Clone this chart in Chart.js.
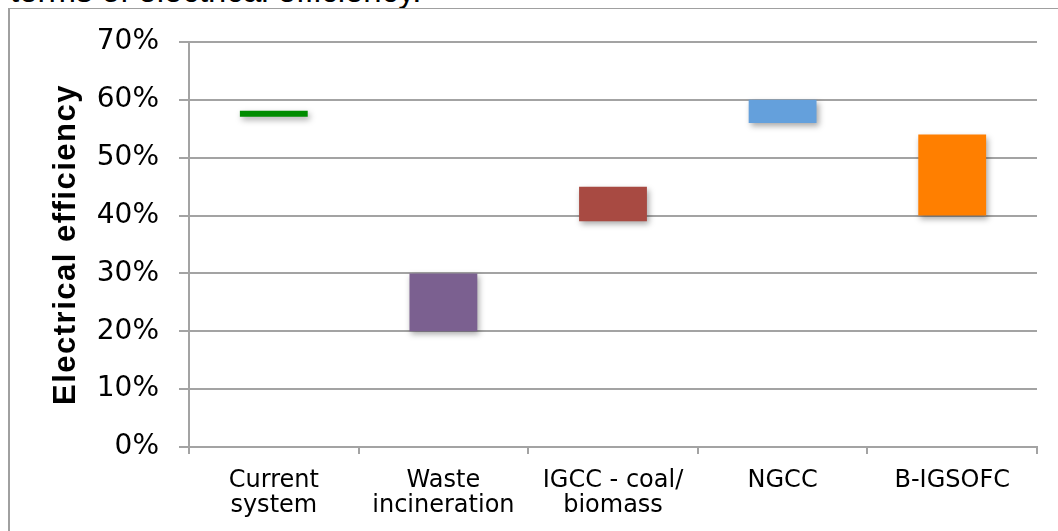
<!DOCTYPE html>
<html>
<head>
<meta charset="utf-8">
<script src="https://cdn.jsdelivr.net/npm/chart.js@4.4.1/dist/chart.umd.min.js"></script>
<style>
  html, body { margin: 0; padding: 0; background: #fff; overflow: hidden; }
  #caja { position: relative; width: 1058px; height: 531px; }
  #titulo { position: absolute; left: 10px; top: -26px; font: 33px/33px "Liberation Sans", Arial, sans-serif; color: #000; white-space: nowrap; }
  #marco { position: absolute; left: 8px; top: 8px; width: 1100px; height: 600px; border-left: 2px solid #a0a0a0; border-top: 1px solid #a0a0a0; }
  canvas { position: absolute; left: 0; top: 0; }
</style>
</head>
<body>
<div id="caja">
  <div id="titulo">terms of electrical efficiency.</div>
  <div id="marco"></div>
  <canvas id="grafica" width="1058" height="531"></canvas>
</div>
<script>
// categorias y rangos de eficiencia (%)
const categorias = [["Current", "system"], ["Waste", "incineration"], ["IGCC - coal/", "biomass"], "NGCC", "B-IGSOFC"];
const minimos = [57.1, 20, 39, 56, 40];
const maximos = [58.1, 30, 45, 60, 54];
const marcasY = [0, 10, 20, 30, 40, 50, 60, 70];
const COLORES = ["#008c00", "#7b6090", "#a84a42", "#64a0dc", "#ff7f00"];

const GRIS = "#a3a3a3";

const sombra = {
    id: "sombra",
    beforeDatasetsDraw(chart) {
        const ctx = chart.ctx;
        ctx.save();
        ctx.shadowColor = "rgba(0,0,0,0.35)";
        ctx.shadowBlur = 6;
        ctx.shadowOffsetX = 2;
        ctx.shadowOffsetY = 3;
    },
    afterDatasetsDraw(chart) {
        chart.ctx.restore();
    }
};

// el titulo del eje va algo espaciado
const espaciado = {
    id: "espaciado",
    afterUpdate(chart) {
        const s = chart.scales.y;
        if (s._espaciado) return;
        const orig = s.drawTitle.bind(s);
        s.drawTitle = function () {
            this.ctx.save();
            this.ctx.letterSpacing = "1.5px";
            orig();
            this.ctx.restore();
        };
        s._espaciado = true;
    }
};

window.onload = () => {
    const ctx = document.getElementById("grafica").getContext("2d");
    new Chart(ctx, {
        type: "bar",
        data: {
            labels: categorias,
            datasets: [{
                data: minimos.map((v, i) => [v, maximos[i]]),
                backgroundColor: COLORES,
                borderWidth: 0,
                barPercentage: 0.4,
                categoryPercentage: 1
            }]
        },
        options: {
            responsive: false,
            animation: false,
            layout: { padding: { left: 0, right: 21, top: 42, bottom: 0 } },
            plugins: {
                legend: { display: false },
                tooltip: { enabled: false }
            },
            scales: {
                x: {
                    grid: { drawOnChartArea: false, drawTicks: true, tickLength: 7, color: GRIS, lineWidth: 2 },
                    border: { color: GRIS, width: 2 },
                    ticks: {
                        color: "#000",
                        padding: 14,
                        maxRotation: 0,
                        autoSkip: false,
                        font: { family: "DejaVu Sans", size: 24, lineHeight: 1.05 }
                    },
                    afterFit: s => { s.height = 84; }
                },
                y: {
                    min: 0,
                    max: 70,
                    afterBuildTicks: s => { s.ticks = marcasY.map(v => ({ value: v })); },
                    grid: { color: GRIS, lineWidth: 2, tickLength: 10 },
                    border: { color: GRIS, width: 2 },
                    ticks: {
                        color: "#000",
                        padding: 20,
                        font: { family: "DejaVu Sans", size: 28 },
                        callback: v => v + "%"
                    },
                    title: {
                        display: true,
                        text: "Electrical efficiency",
                        color: "#000",
                        padding: { top: 48, bottom: 0 },
                        font: { family: "Liberation Sans", size: 31, weight: "bold", lineHeight: 1.2 }
                    },
                    afterFit: s => { s.width = 189; }
                }
            }
        },
        plugins: [sombra, espaciado]
    });
};
</script>
</body>
</html>
